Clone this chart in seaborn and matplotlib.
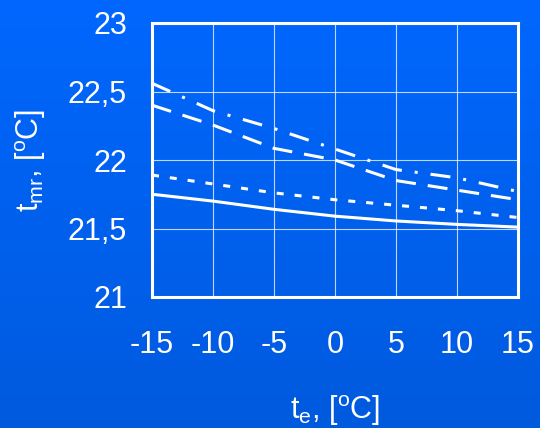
import numpy as np
import pandas as pd
import seaborn as sns
import matplotlib.pyplot as plt
from matplotlib.colors import LinearSegmentedColormap

# outdoor temperature
te = [-15, -10, -5, 0, 5, 10, 15]
# mean radiant temperature, four cases
case_solid = [21.75, 21.70, 21.64, 21.59, 21.555, 21.53, 21.51]
case_dot = [21.89, 21.825, 21.76, 21.71, 21.67, 21.63, 21.58]
case_dash = [22.40, 22.255, 22.085, 22.0, 21.85, 21.78, 21.71]
case_dashdot = [22.56, 22.36, 22.23, 22.08, 21.93, 21.87, 21.77]

df = pd.DataFrame({
    'te': te * 4,
    'tmr': case_solid + case_dot + case_dash + case_dashdot,
    'case': ['a'] * 7 + ['b'] * 7 + ['c'] * 7 + ['d'] * 7,
})

sns.set_style('white')
plt.rcParams['font.family'] = ['Liberation Sans', 'DejaVu Sans']
plt.rcParams['mathtext.fontset'] = 'custom'
plt.rcParams['mathtext.rm'] = 'Liberation Sans'
plt.rcParams['mathtext.it'] = 'Liberation Sans'
plt.rcParams['mathtext.default'] = 'regular'

fig = plt.figure(figsize=(5.4, 4.28), dpi=100)

# blue gradient background
bg = fig.add_axes([0, 0, 1, 1], zorder=-1)
grad = LinearSegmentedColormap.from_list('bg', ['#0067fe', '#005ade'])
bg.imshow(np.linspace(0, 1, 256).reshape(-1, 1), aspect='auto', cmap=grad)
bg.axis('off')

ax = fig.add_axes([152 / 540, 1 - 297 / 428, 366 / 540, 274 / 428])
ax.set_facecolor('none')

lw = 2.2
dashes = {
    'a': '',
    'b': (7 * 0.72 / lw, 11 * 0.72 / lw),
    'c': (20 * 0.72 / lw, 12 * 0.72 / lw),
    'd': (20 * 0.72 / lw, 13 * 0.72 / lw, 3 * 0.72 / lw, 13 * 0.72 / lw),
}
sns.lineplot(data=df, x='te', y='tmr', style='case', dashes=dashes,
             color='white', lw=lw, legend=False, ax=ax)

ax.set_xlim(-15, 15)
ax.set_ylim(21, 23)
ax.set_xticks(te)
ax.set_xticklabels(['-15', '-10', '-5', '0', '5', '10', '15'])
ax.set_yticks([21, 21.5, 22, 22.5, 23])
ax.set_yticklabels(['21', '21,5', '22', '22,5', '23'])
ax.grid(True, color='white', lw=0.8, alpha=0.75)
for s in ax.spines.values():
    s.set_color('white')
    s.set_linewidth(2.2)
ax.tick_params(direction='in', length=6.5, width=2.2, color='white',
               labelcolor='white', labelsize=22)
ax.tick_params(axis='x', pad=24)
ax.tick_params(axis='y', pad=18)

ax.set_xlabel('t$_e$, [$^o$C]', color='white', fontsize=22, labelpad=24)
ax.set_ylabel('t$_{mr}$, [$^o$C]', color='white', fontsize=22, labelpad=14)

fig.savefig('out.png', dpi=100)
